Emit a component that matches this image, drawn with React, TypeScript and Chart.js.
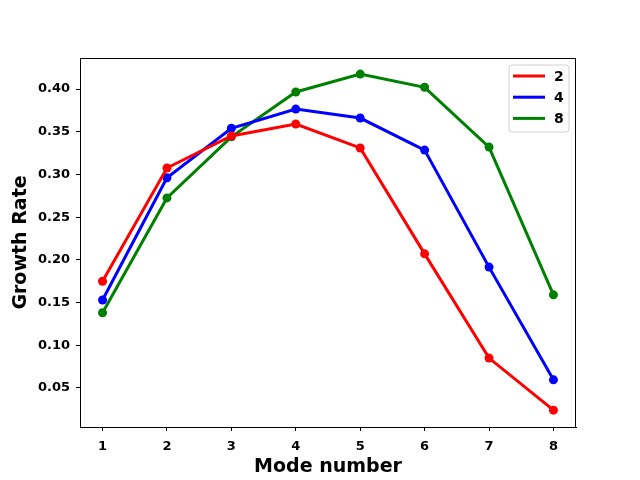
import React, { useEffect, useRef } from "react";
import { Chart, registerables } from "chart.js";

Chart.register(...registerables);

const modes = [1, 2, 3, 4, 5, 6, 7, 8];
const seriesLabels = ["2", "4", "8"];
const series2 = [0.175, 0.3075, 0.345, 0.359, 0.331, 0.207, 0.085, 0.024];
const series4 = [0.153, 0.296, 0.354, 0.3765, 0.366, 0.3285, 0.1915, 0.0595];
const series8 = [0.138, 0.2725, 0.344, 0.3965, 0.4175, 0.402, 0.332, 0.159];
const colors = ["#ff0000", "#0000ff", "#008000"];
const yTicks = [0.05, 0.1, 0.15, 0.2, 0.25, 0.3, 0.35, 0.4];

const FONT = "'DejaVu Sans', sans-serif";

const frameAndLegend = {
  id: "frameAndLegend",
  afterDraw(chart: any) {
    const ctx = chart.ctx;
    const a = chart.chartArea;
    ctx.save();
    ctx.strokeStyle = "#000";
    ctx.lineWidth = 1;
    ctx.strokeRect(Math.round(a.left) + 0.5, Math.round(a.top) + 0.5, Math.round(a.right - a.left) - 1, Math.round(a.bottom - a.top));
    // legend
    const bx = a.right - 67, by = a.top + 7, bw = 60, bh = 67;
    ctx.beginPath();
    const r = 3;
    ctx.moveTo(bx + r, by);
    ctx.lineTo(bx + bw - r, by);
    ctx.quadraticCurveTo(bx + bw, by, bx + bw, by + r);
    ctx.lineTo(bx + bw, by + bh - r);
    ctx.quadraticCurveTo(bx + bw, by + bh, bx + bw - r, by + bh);
    ctx.lineTo(bx + r, by + bh);
    ctx.quadraticCurveTo(bx, by + bh, bx, by + bh - r);
    ctx.lineTo(bx, by + r);
    ctx.quadraticCurveTo(bx, by, bx + r, by);
    ctx.closePath();
    ctx.fillStyle = "rgba(255,255,255,0.8)";
    ctx.fill();
    ctx.strokeStyle = "#d0d0d0";
    ctx.stroke();
    chart.data.datasets.forEach((ds: any, i: number) => {
      const y = by + 11 + i * 21.2;
      ctx.beginPath();
      ctx.strokeStyle = ds.borderColor;
      ctx.lineWidth = 3;
      ctx.moveTo(bx + 4, y);
      ctx.lineTo(bx + 36, y);
      ctx.stroke();
      ctx.fillStyle = "#000";
      ctx.font = `bold 14px ${FONT}`;
      ctx.textBaseline = "middle";
      ctx.textAlign = "left";
      ctx.fillText(ds.label, bx + 45, y + 1);
    });
    ctx.restore();
  },
};

export default function App() {
  const ref = useRef<HTMLCanvasElement>(null);
  useEffect(() => {
    document.body.style.margin = "0";
    const datasets = [series2, series4, series8].map((d, i) => ({
      label: seriesLabels[i],
      data: d.map((v, j) => ({ x: modes[j], y: v })),
      borderColor: colors[i],
      backgroundColor: colors[i],
      borderWidth: 3,
      pointRadius: 4.5,
      pointHoverRadius: 4.5,
      pointBorderWidth: 0,
      tension: 0,
    }));
    const chart = new Chart(ref.current!, {
      type: "line",
      data: { datasets },
      plugins: [frameAndLegend],
      options: {
        animation: false,
        responsive: false,
        devicePixelRatio: 1,
        layout: { padding: { left: 0, right: 64, top: 58, bottom: 0 } },
        plugins: { legend: { display: false }, tooltip: { enabled: false } },
        scales: {
          x: {
            type: "linear",
            min: 0.65,
            max: 8.35,
            afterFit: (s: any) => { s.height = 53; },
            afterBuildTicks: (s: any) => { s.ticks = modes.map((v) => ({ value: v })); },
            grid: { display: true, drawOnChartArea: false, drawTicks: true, tickLength: 4, color: "#000" },
            border: { display: true, color: "#000" },
            ticks: { color: "#000", font: { family: FONT, size: 13, weight: "bold" }, padding: 8, maxRotation: 0, autoSkip: false, callback: (v: any) => String(v) },
            title: { display: true, text: "Mode number", color: "#000", font: { family: FONT, size: 19, weight: "bold" }, padding: { top: 0, bottom: 2 } },
          },
          y: {
            type: "linear",
            min: 0.0043,
            max: 0.4363,
            afterFit: (s: any) => { s.width = 80; },
            afterBuildTicks: (s: any) => { s.ticks = yTicks.map((v) => ({ value: v })); },
            grid: { display: true, drawOnChartArea: false, drawTicks: true, tickLength: 4, color: "#000" },
            border: { display: true, color: "#000" },
            ticks: { color: "#000", font: { family: FONT, size: 13, weight: "bold" }, padding: 6, autoSkip: false, callback: (v: any) => Number(v).toFixed(2) },
            title: { display: true, text: "Growth Rate", color: "#000", font: { family: FONT, size: 19, weight: "bold" }, padding: { top: 10, bottom: 0 } },
          },
        },
      },
    } as any);
    return () => chart.destroy();
  }, []);
  return <canvas ref={ref} width={640} height={480} style={{ display: "block" }} />;
}
